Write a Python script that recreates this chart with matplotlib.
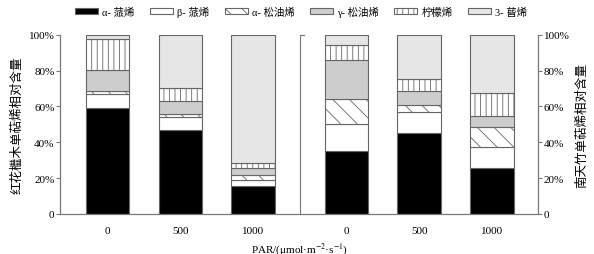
import numpy as np
import matplotlib as mpl
mpl.use("Agg")
import matplotlib.pyplot as plt
from matplotlib.patches import Patch

mpl.rcParams.update({
    "font.family": ["Liberation Serif", "Noto Sans CJK SC"],
    "font.size": 8,
    "mathtext.fontset": "stix",
    "hatch.linewidth": 0.6,
    "axes.edgecolor": "#777777",
    "axes.linewidth": 0.8,
})

# 单萜组分 (%)，每组三个 PAR 水平
par = ["0", "500", "1000"]
comps = ["α- 蒎烯", "β- 蒎烯", "α- 松油烯", "γ- 松油烯", "柠檬烯", "3- 蒈烯"]
loropetalum = {  # 红花檵木
    "α- 蒎烯": [59.3, 46.8, 15.6],
    "β- 蒎烯": [7.4, 7.3, 3.5],
    "α- 松油烯": [1.7, 1.8, 2.6],
    "γ- 松油烯": [12.1, 7.3, 3.8],
    "柠檬烯": [16.9, 6.9, 2.9],
    "3- 蒈烯": [2.6, 29.9, 71.6],
}
nandina = {  # 南天竹
    "α- 蒎烯": [35.3, 45.4, 25.7],
    "β- 蒎烯": [14.7, 11.7, 11.5],
    "α- 松油烯": [13.9, 3.5, 11.1],
    "γ- 松油烯": [21.8, 8.0, 6.5],
    "柠檬烯": [8.5, 6.7, 12.7],
    "3- 蒈烯": [5.8, 24.7, 32.5],
}

styles = {
    "α- 蒎烯": dict(facecolor="black", hatch=None),
    "β- 蒎烯": dict(facecolor="white", hatch=None),
    "α- 松油烯": dict(facecolor="white", hatch="\\\\"),
    "γ- 松油烯": dict(facecolor="#cdcdcd", hatch=None),
    "柠檬烯": dict(facecolor="white", hatch="|||"),
    "3- 蒈烯": dict(facecolor="#e6e6e6", hatch=None),
}
EDGE = "#666666"

fig = plt.figure(figsize=(5.94, 2.55), dpi=100)
ax = fig.add_axes([0.101, 0.157, 0.805, 0.703])

gap = 93.7 / 72.7
xl = np.arange(3)
xr = np.arange(3) + 2 + gap
width = 0.6

for xs, data in [(xl, loropetalum), (xr, nandina)]:
    bottom = np.zeros(3)
    for c in comps:
        v = np.array(data[c])
        st = styles[c]
        ax.bar(xs, v, width, bottom=bottom, facecolor=st["facecolor"],
               hatch=st["hatch"], edgecolor=EDGE, linewidth=0.8, zorder=2)
        bottom += v

# separator between the two species
sep = 2 + (300 - 253) / 72.7
ax.plot([sep, sep], [0, 100], color="#777777", lw=0.8, clip_on=False)
ax.plot([sep, sep + 0.05], [100, 100], color="#777777", lw=0.8, clip_on=False)

ax.set_xlim(-47.7 / 72.7, xr[-1] + 46.3 / 72.7)
ax.set_ylim(0, 100)
ax.set_xticks(np.concatenate([xl, xr]))
ax.set_xticklabels(par + par)
ax.tick_params(axis="x", length=0, pad=9)
yt = [0, 20, 40, 60, 80, 100]
ylab = ["0"] + [f"{t}%" for t in yt[1:]]
ax.set_yticks(yt)
ax.set_yticklabels(ylab)
ax.tick_params(axis="y", length=3, pad=1, color="#777777")
ax.spines["top"].set_visible(False)

ax2 = ax.twinx()
ax2.set_ylim(0, 100)
ax2.set_yticks(yt)
ax2.set_yticklabels(ylab)
ax2.tick_params(axis="y", length=3, pad=1, color="#777777")
ax2.spines["top"].set_visible(False)

cjk = ["Noto Sans CJK SC"]
ax.set_ylabel("红花檵木单萜烯相对含量", family=cjk, fontsize=9, labelpad=4)
ax2.set_ylabel("南天竹单萜烯相对含量", family=cjk, fontsize=9, rotation=90,
               labelpad=4)
ax.set_xlabel(r"PAR/(μmol·m$^{-2}$·s$^{-1}$)", fontsize=8, labelpad=3)

handles = [Patch(facecolor=styles[c]["facecolor"], hatch=styles[c]["hatch"],
                 edgecolor=EDGE, linewidth=0.8, label=c) for c in comps]
fig.legend(handles=handles, loc="center", bbox_to_anchor=(0.507, 0.953),
           ncol=6, frameon=False, fontsize=7.5, handlelength=2.2,
           handleheight=0.6, columnspacing=1.5, handletextpad=0.4)

fig.savefig("out.png", dpi=100)
